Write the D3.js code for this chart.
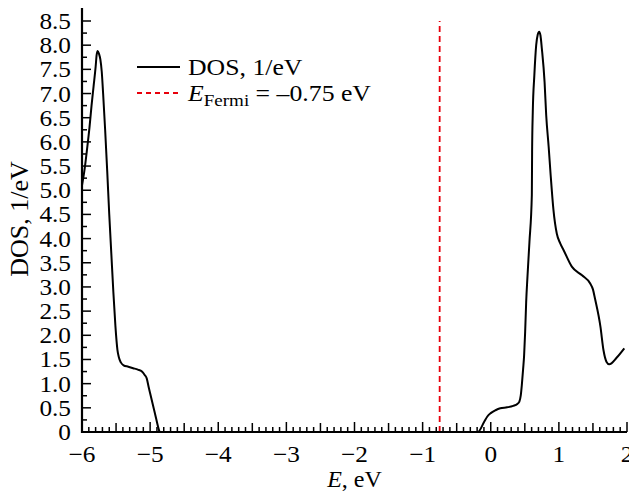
<!DOCTYPE html>
<html lang="en">
<head>
<meta charset="UTF-8">
<title>DOS</title>
<style>
  body { margin: 0; background: #fff; }
  svg text { font-family: "Liberation Serif", "DejaVu Serif", serif; fill: #000; }
</style>
</head>
<body>
<div id="chart-container"></div>
<script src="https://cdn.jsdelivr.net/npm/d3@7"></script>
<script>
  // data
  var energy = [-6.0, -5.96, -5.93, -5.89, -5.86, -5.83, -5.80, -5.785, -5.77, -5.75, -5.73, -5.71, -5.69, -5.66, -5.63,
    -5.60, -5.57, -5.54, -5.51, -5.48, -5.46, -5.43, -5.39, -5.32, -5.25, -5.18, -5.12, -5.08, -5.05, -5.02, -5.0,
    -4.93, -4.87, -4.86, -0.19, -0.1, -0.05, 0.0, 0.07, 0.14, 0.24, 0.33, 0.39, 0.42, 0.44, 0.456, 0.475, 0.49,
    0.505, 0.52, 0.54, 0.568, 0.603, 0.607, 0.617, 0.64, 0.667, 0.69, 0.711, 0.73, 0.75, 0.79, 0.814, 0.85,
    0.88, 0.92, 0.97, 1.02, 1.07, 1.19, 1.34, 1.46, 1.5, 1.53, 1.61, 1.655, 1.7, 1.74, 1.85, 1.96];
  var dos = [5.1, 5.45, 5.8, 6.3, 6.75, 7.15, 7.55, 7.8, 7.88, 7.82, 7.7, 7.45, 7.0, 6.24, 5.4,
    4.5, 3.7, 2.9, 2.2, 1.7, 1.55, 1.44, 1.38, 1.35, 1.32, 1.29, 1.25, 1.18, 1.11, 0.92, 0.8,
    0.39, 0.04, 0, 0, 0.2, 0.32, 0.39, 0.45, 0.49, 0.51, 0.54, 0.58, 0.63, 0.75, 0.97, 1.3, 1.59,
    2.07, 2.69, 3.24, 3.93, 4.9, 5.79, 6.62, 7.38, 8.0, 8.22, 8.28, 8.2, 7.93, 7.24, 6.55, 5.9,
    5.3, 4.6, 4.1, 3.9, 3.76, 3.42, 3.24, 3.07, 2.95, 2.76, 2.18, 1.69, 1.45, 1.4, 1.54, 1.73];
  var eFermi = -0.75;
  var xTicks = [-6, -5, -4, -3, -2, -1, 0, 1, 2];
  var yTicks = [0, 0.5, 1, 1.5, 2, 2.5, 3, 3.5, 4, 4.5, 5, 5.5, 6, 6.5, 7, 7.5, 8, 8.5];

  var width = 629, height = 493;
  var pl = 82, pr = 627, pt = 21, pb = 432;

  var svg = d3.select("#chart-container").append("svg")
    .attr("width", width).attr("height", height);

  var x = d3.scaleLinear().domain([-6, 2]).range([pl, pr]);
  var y = d3.scaleLinear().domain([0, 8.5]).range([pb, pt]);

  function fmtX(d) { return d < 0 ? "\u2212" + Math.abs(d) : "" + d; }
  function fmtY(d) { return d === 0 ? "0" : d.toFixed(1); }

  // text in the reference is a bit wider than Liberation Serif
  function wideText(parent, tx, ty, sx, size, anchor) {
    return parent.append("g")
      .attr("transform", "translate(" + tx + "," + ty + ") scale(" + sx + ",1)")
      .append("text").attr("text-anchor", anchor).style("font-size", size + "px");
  }

  // x axis: inward ticks
  var xMinor = d3.range(-6, 2.001, 0.1).map(function(d) { return Math.round(d * 10) / 10; });
  svg.append("g").selectAll("line").data(xMinor).enter().append("line")
    .attr("x1", function(d) { return x(d); }).attr("x2", function(d) { return x(d); })
    .attr("y1", pb)
    .attr("y2", function(d) {
      var k = Math.round(d * 10);
      if (k % 10 === 0) return pb - 10;
      if (k % 5 === 0) return pb - 9;
      return pb - 5;
    })
    .attr("stroke", "#000").attr("stroke-width", 1.5);

  var gx = svg.append("g");
  xTicks.forEach(function(d) {
    wideText(gx, x(d), 462, 1.1, 23, "middle").text(fmtX(d));
  });

  // y axis: inward ticks
  var yMinor = d3.range(0, 8.501, 0.25).map(function(d) { return Math.round(d * 100) / 100; });
  svg.append("g").selectAll("line").data(yMinor).enter().append("line")
    .attr("y1", function(d) { return y(d); }).attr("y2", function(d) { return y(d); })
    .attr("x1", pl)
    .attr("x2", function(d) { return Math.round(d * 4) % 2 === 0 ? pl + 9 : pl + 5; })
    .attr("stroke", "#000").attr("stroke-width", 1.5);

  var gy = svg.append("g");
  yTicks.forEach(function(d) {
    wideText(gy, 71, y(d) + 8, 1.1, 23, "end").text(fmtY(d));
  });

  // axis lines
  svg.append("line").attr("x1", pl).attr("x2", pl).attr("y1", 8).attr("y2", pb + 1)
    .attr("stroke", "#000").attr("stroke-width", 2.2);
  svg.append("line").attr("x1", pl - 1).attr("x2", pr).attr("y1", pb).attr("y2", pb)
    .attr("stroke", "#000").attr("stroke-width", 2.2);

  // Fermi level
  svg.append("line")
    .attr("x1", x(eFermi)).attr("x2", x(eFermi)).attr("y1", y(0)).attr("y2", y(8.5))
    .attr("stroke", "#e8000b").attr("stroke-width", 1.8).attr("stroke-dasharray", "6,4");

  // DOS curve
  var pts = energy.map(function(e, i) { return [e, dos[i]]; });
  var line = d3.line()
    .x(function(d) { return x(d[0]); })
    .y(function(d) { return y(d[1]); })
    .curve(d3.curveMonotoneX);
  svg.append("path").datum(pts)
    .attr("d", line)
    .attr("fill", "none").attr("stroke", "#000").attr("stroke-width", 2)
    .attr("stroke-linejoin", "round");

  // axis titles
  var xt = svg.append("text").attr("x", (pl + pr) / 2).attr("y", 487)
    .attr("text-anchor", "middle").style("font-size", "24px");
  xt.append("tspan").style("font-style", "italic").text("E");
  xt.append("tspan").text(", eV");

  svg.append("text")
    .attr("transform", "translate(28,219) rotate(-90)")
    .attr("text-anchor", "middle").style("font-size", "26px")
    .text("DOS, 1/eV");

  // legend
  svg.append("line").attr("x1", 137).attr("x2", 180).attr("y1", 67).attr("y2", 67)
    .attr("stroke", "#000").attr("stroke-width", 2);
  wideText(svg, 188, 75, 1.12, 23, "start").text("DOS, 1/eV");

  svg.append("line").attr("x1", 137).attr("x2", 180).attr("y1", 93).attr("y2", 93)
    .attr("stroke", "#e8000b").attr("stroke-width", 1.8).attr("stroke-dasharray", "5,4");
  var lt = wideText(svg, 188, 101, 1.12, 23, "start");
  lt.append("tspan").style("font-style", "italic").text("E");
  lt.append("tspan").attr("dy", 5).style("font-size", "17px").text("Fermi");
  lt.append("tspan").attr("dy", -5).text(" = \u20130.75 eV");
</script>
</body>
</html>
